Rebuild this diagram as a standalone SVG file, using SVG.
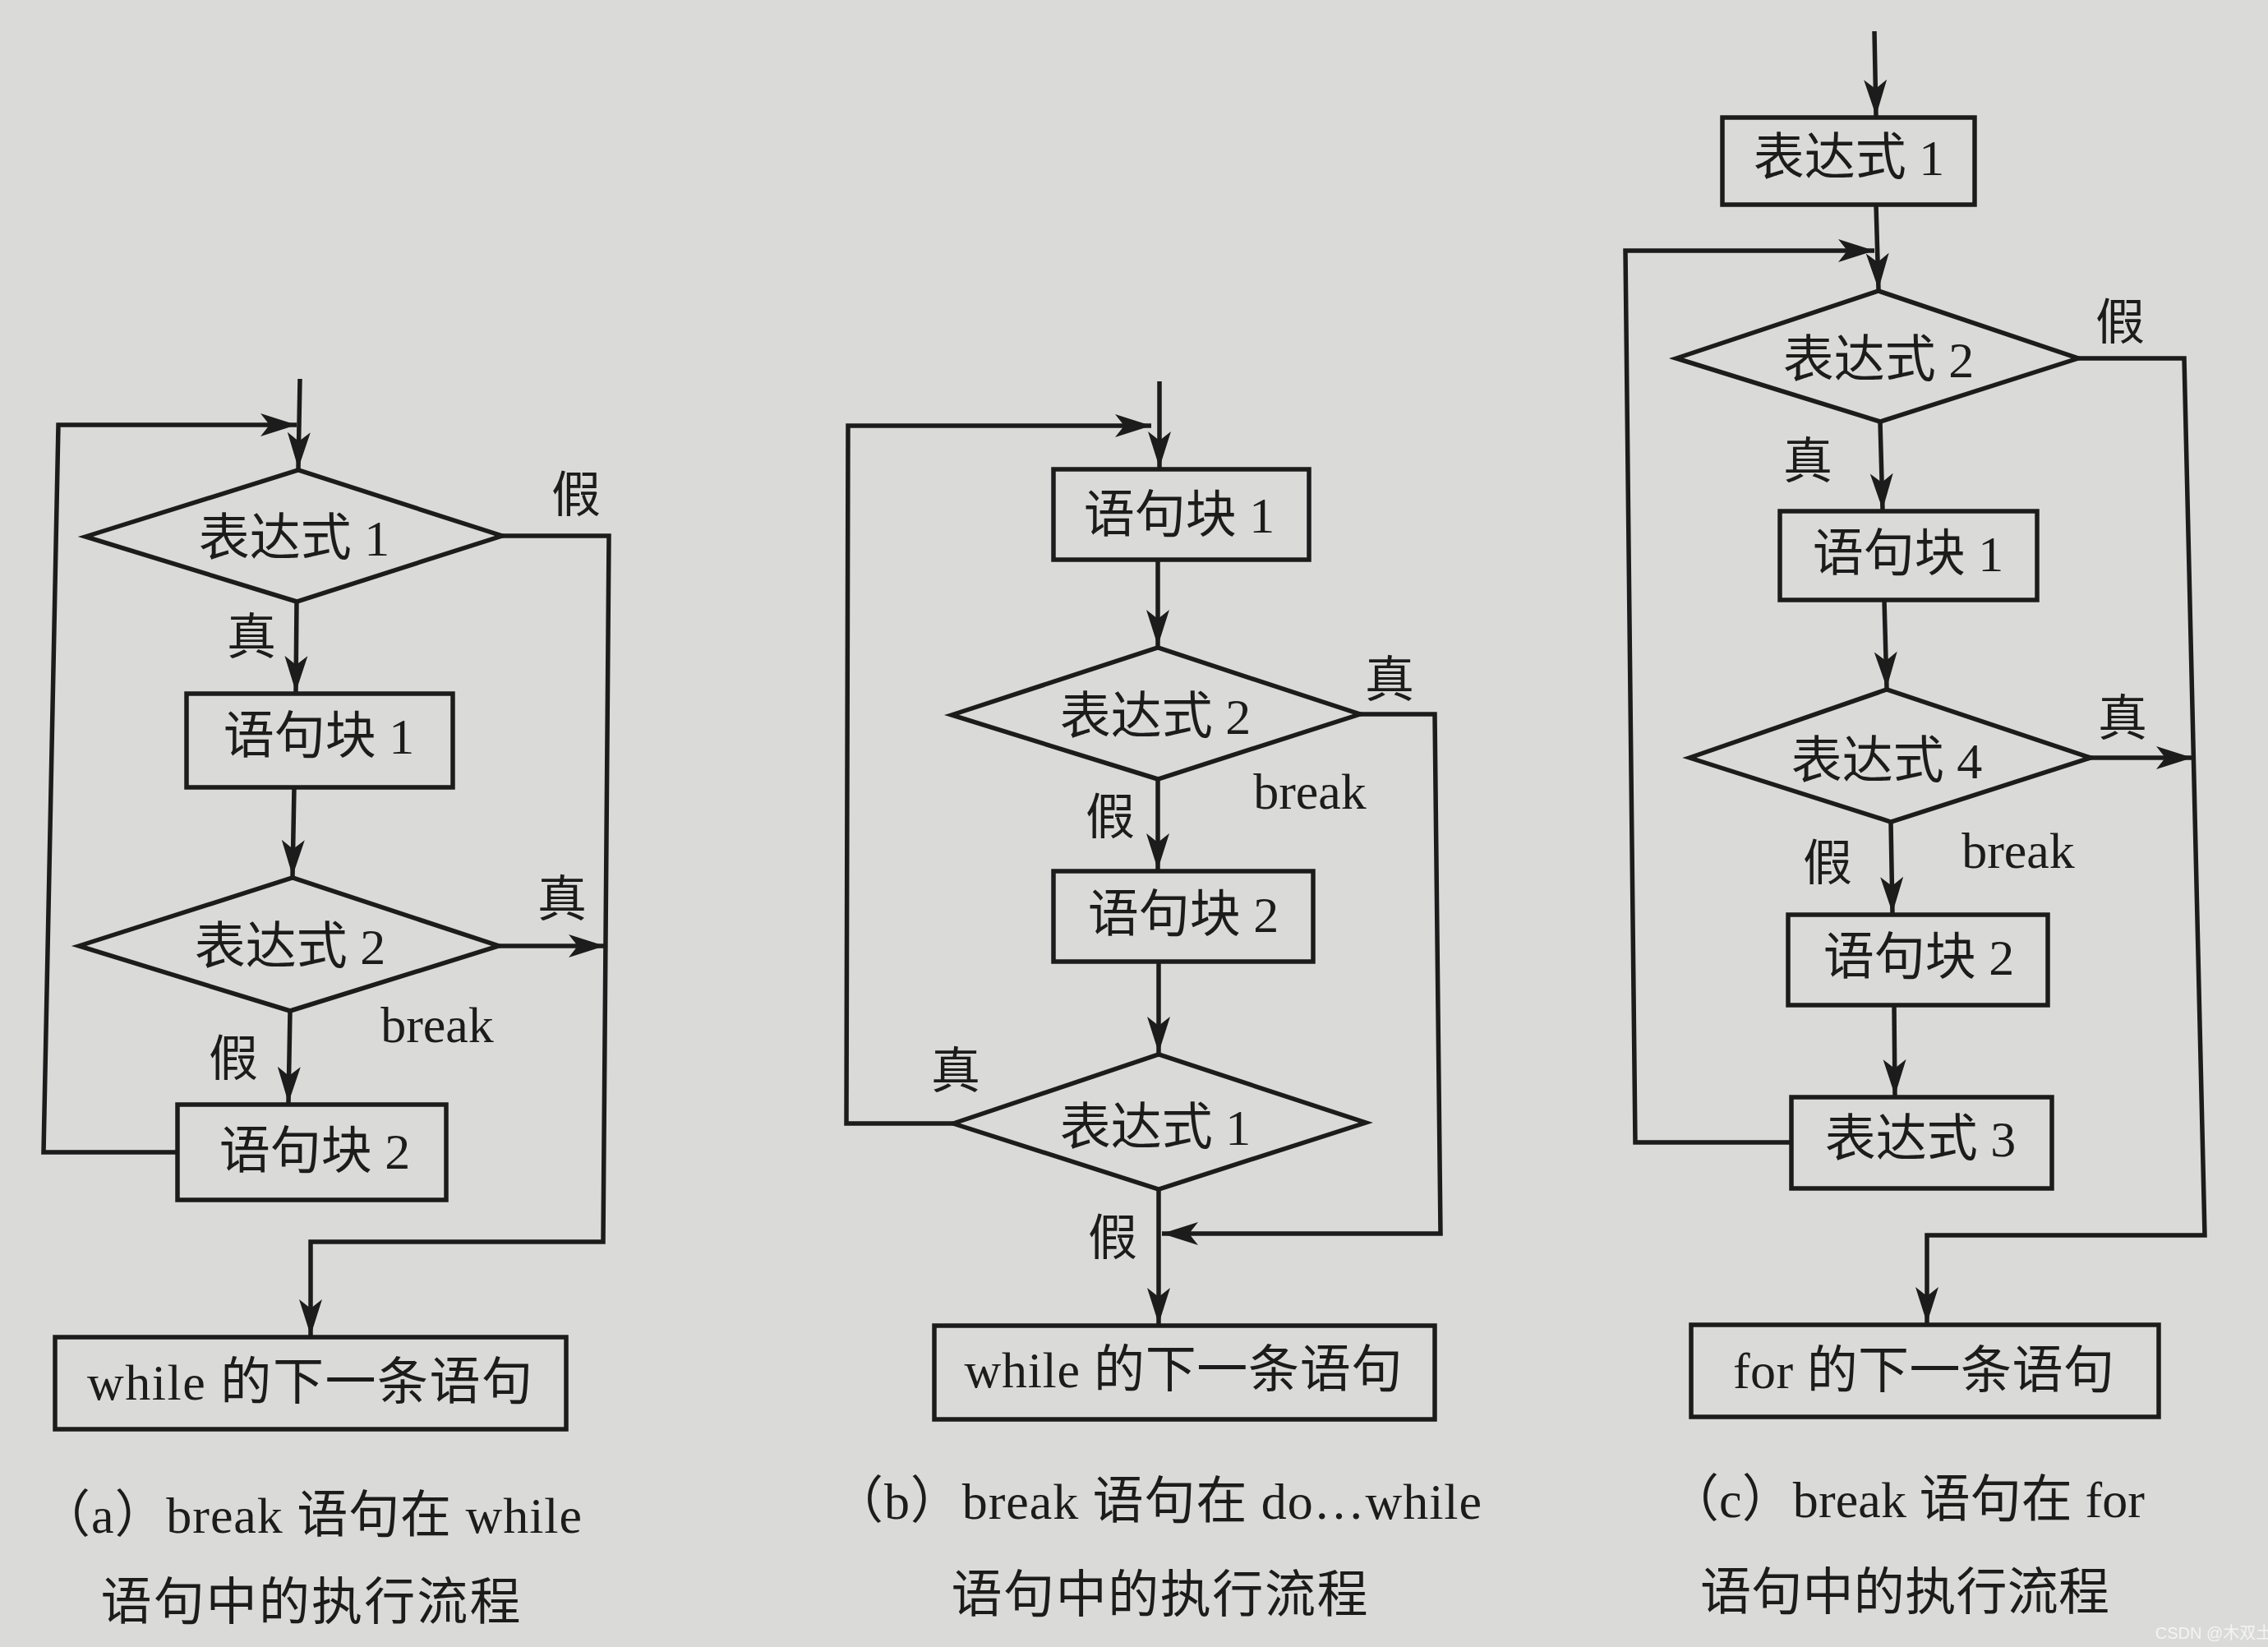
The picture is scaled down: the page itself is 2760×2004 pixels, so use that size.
<svg xmlns="http://www.w3.org/2000/svg" width="2760" height="2004" viewBox="0 0 2760 2004">
<style>
.bg{fill:#dadad8}
.shape{fill:none;stroke:#1c1c1c;stroke-width:5.5;stroke-linejoin:miter}
.conn{fill:none;stroke:#1c1c1c;stroke-width:5.5;stroke-linejoin:miter}
.arr{marker-end:url(#ah)}
text{font-family:"Liberation Serif","Noto Sans CJK SC",serif;fill:#1c1c1c}
.t{font-size:62px;text-anchor:middle}
.lbl{font-size:60px;text-anchor:middle}
.cap{font-size:62px;text-anchor:middle}
.wm{font-family:"Liberation Sans","Noto Sans CJK SC",sans-serif;font-size:20px;fill:#f4f4f4;text-anchor:middle}
</style>
<defs>
<marker id="ah" markerUnits="userSpaceOnUse" markerWidth="46" markerHeight="30" viewBox="0 0 46 30" refX="44" refY="15" orient="auto">
<path d="M44,15 L0,1 L11,15 L0,29 Z" fill="#1c1c1c"/>
</marker>
</defs>
<rect class="bg" x="0" y="0" width="2760" height="2004"/>

<!-- Panel (a) -->
<g id="a-expr1">
<polygon class="shape" points="104,653 363,572 611,652 361,732"/>
<text class="t" x="358" y="676">表达式 1</text>
</g>
<g id="a-block1">
<rect class="shape" x="227" y="844" width="324" height="114"/>
<text class="t" x="388" y="917">语句块 1</text>
</g>
<g id="a-expr2">
<polygon class="shape" points="96,1151 356,1068 607,1151 353,1230"/>
<text class="t" x="353" y="1173">表达式 2</text>
</g>
<g id="a-block2">
<rect class="shape" x="216" y="1344" width="327" height="116"/>
<text class="t" x="383" y="1422">语句块 2</text>
</g>
<g id="a-next">
<rect class="shape" x="67" y="1627" width="622" height="112"/>
<text class="t" x="377" y="1703" textLength="542" lengthAdjust="spacing">while 的下一条语句</text>
</g>

<!-- Panel (b) -->
<g id="b-block1">
<rect class="shape" x="1282" y="571" width="311" height="110"/>
<text class="t" x="1435" y="648">语句块 1</text>
</g>
<g id="b-expr2">
<polygon class="shape" points="1158,870 1409,788 1655,869 1409,948"/>
<text class="t" x="1406" y="893">表达式 2</text>
</g>
<g id="b-block2">
<rect class="shape" x="1282" y="1060" width="316" height="110"/>
<text class="t" x="1440" y="1134">语句块 2</text>
</g>
<g id="b-expr1">
<polygon class="shape" points="1160,1367 1410,1283 1662,1366 1410,1447"/>
<text class="t" x="1406" y="1393">表达式 1</text>
</g>
<g id="b-next">
<rect class="shape" x="1137" y="1613" width="609" height="114"/>
<text class="t" x="1440" y="1688" textLength="533" lengthAdjust="spacing">while 的下一条语句</text>
</g>

<!-- Panel (c) -->
<g id="c-expr1">
<rect class="shape" x="2096" y="143" width="307" height="106"/>
<text class="t" x="2250" y="213">表达式 1</text>
</g>
<g id="c-expr2">
<polygon class="shape" points="2040,436 2286,354 2529,436 2288,513"/>
<text class="t" x="2286" y="459">表达式 2</text>
</g>
<g id="c-block1">
<rect class="shape" x="2166" y="622" width="313" height="108"/>
<text class="t" x="2322" y="695">语句块 1</text>
</g>
<g id="c-expr4">
<polygon class="shape" points="2056,922 2296,839 2544,922 2301,1000"/>
<text class="t" x="2296" y="947">表达式 4</text>
</g>
<g id="c-block2">
<rect class="shape" x="2176" y="1113" width="316" height="110"/>
<text class="t" x="2335" y="1186">语句块 2</text>
</g>
<g id="c-expr3">
<rect class="shape" x="2180" y="1335" width="317" height="111"/>
<text class="t" x="2337" y="1407">表达式 3</text>
</g>
<g id="c-next">
<rect class="shape" x="2058" y="1612" width="569" height="112"/>
<text class="t" x="2341" y="1689" textLength="464" lengthAdjust="spacing">for 的下一条语句</text>
</g>

<!-- Connectors -->
<g id="connectors">
<!-- (a) -->
<path class="conn arr" d="M365,461 L363,570"/>
<path class="conn arr" d="M216,1402 L53,1402 L71,517 L361,517"/>
<path class="conn arr" d="M361,732 L360,842"/>
<path class="conn arr" d="M358,958 L356,1066"/>
<path class="conn arr" d="M607,1151 L736,1151"/>
<path class="conn arr" d="M611,652 L741,652 L734,1511 L378,1511 L378,1625"/>
<path class="conn arr" d="M353,1230 L351,1342"/>
<!-- (b) -->
<path class="conn arr" d="M1411,464 L1411,569"/>
<path class="conn arr" d="M1160,1367 L1030,1367 L1032,518 L1401,518"/>
<path class="conn arr" d="M1409,681 L1409,786"/>
<path class="conn arr" d="M1409,948 L1409,1058"/>
<path class="conn arr" d="M1410,1170 L1410,1281"/>
<path class="conn arr" d="M1655,869 L1746,869 L1753,1501 L1414,1501"/>
<path class="conn arr" d="M1410,1447 L1410,1611"/>
<!-- (c) -->
<path class="conn arr" d="M2281,38 L2283,141"/>
<path class="conn arr" d="M2283,249 L2286,352"/>
<path class="conn arr" d="M2180,1390 L1990,1390 L1978,305 L2281,305"/>
<path class="conn arr" d="M2288,513 L2291,620"/>
<path class="conn arr" d="M2293,730 L2296,837"/>
<path class="conn arr" d="M2544,922 L2668,922"/>
<path class="conn arr" d="M2301,1000 L2303,1111"/>
<path class="conn arr" d="M2305,1223 L2306,1333"/>
<path class="conn arr" d="M2529,436 L2658,436 L2683,1503 L2345,1503 L2345,1610"/>
</g>

<!-- Edge labels -->
<g id="labels">
<text class="lbl" x="701" y="623">假</text>
<text class="lbl" x="306" y="796">真</text>
<text class="lbl" x="684" y="1115">真</text>
<text class="t" x="532" y="1268">break</text>
<text class="lbl" x="284" y="1309">假</text>

<text class="lbl" x="1691" y="848">真</text>
<text class="t" x="1594" y="984">break</text>
<text class="lbl" x="1351" y="1015">假</text>
<text class="lbl" x="1163" y="1324">真</text>
<text class="lbl" x="1354" y="1527">假</text>

<text class="lbl" x="2580" y="413">假</text>
<text class="lbl" x="2200" y="582">真</text>
<text class="lbl" x="2583" y="895">真</text>
<text class="lbl" x="2224" y="1071">假</text>
<text class="t" x="2456" y="1056">break</text>
</g>

<!-- Captions -->
<g id="captions">
<text class="cap" x="378" y="1865" textLength="660" lengthAdjust="spacing">（a）break 语句在 while</text>
<text class="cap" x="378" y="1971" textLength="511" lengthAdjust="spacing">语句中的执行流程</text>
<text class="cap" x="1408" y="1848" textLength="790" lengthAdjust="spacing">（b）break 语句在 do…while</text>
<text class="cap" x="1411" y="1962" textLength="507" lengthAdjust="spacing">语句中的执行流程</text>
<text class="cap" x="2320" y="1846" textLength="580" lengthAdjust="spacing">（c）break 语句在 for</text>
<text class="cap" x="2318" y="1959" textLength="498" lengthAdjust="spacing">语句中的执行流程</text>
<text class="wm" x="2694" y="1994">CSDN @木双土</text>
</g>
</svg>
